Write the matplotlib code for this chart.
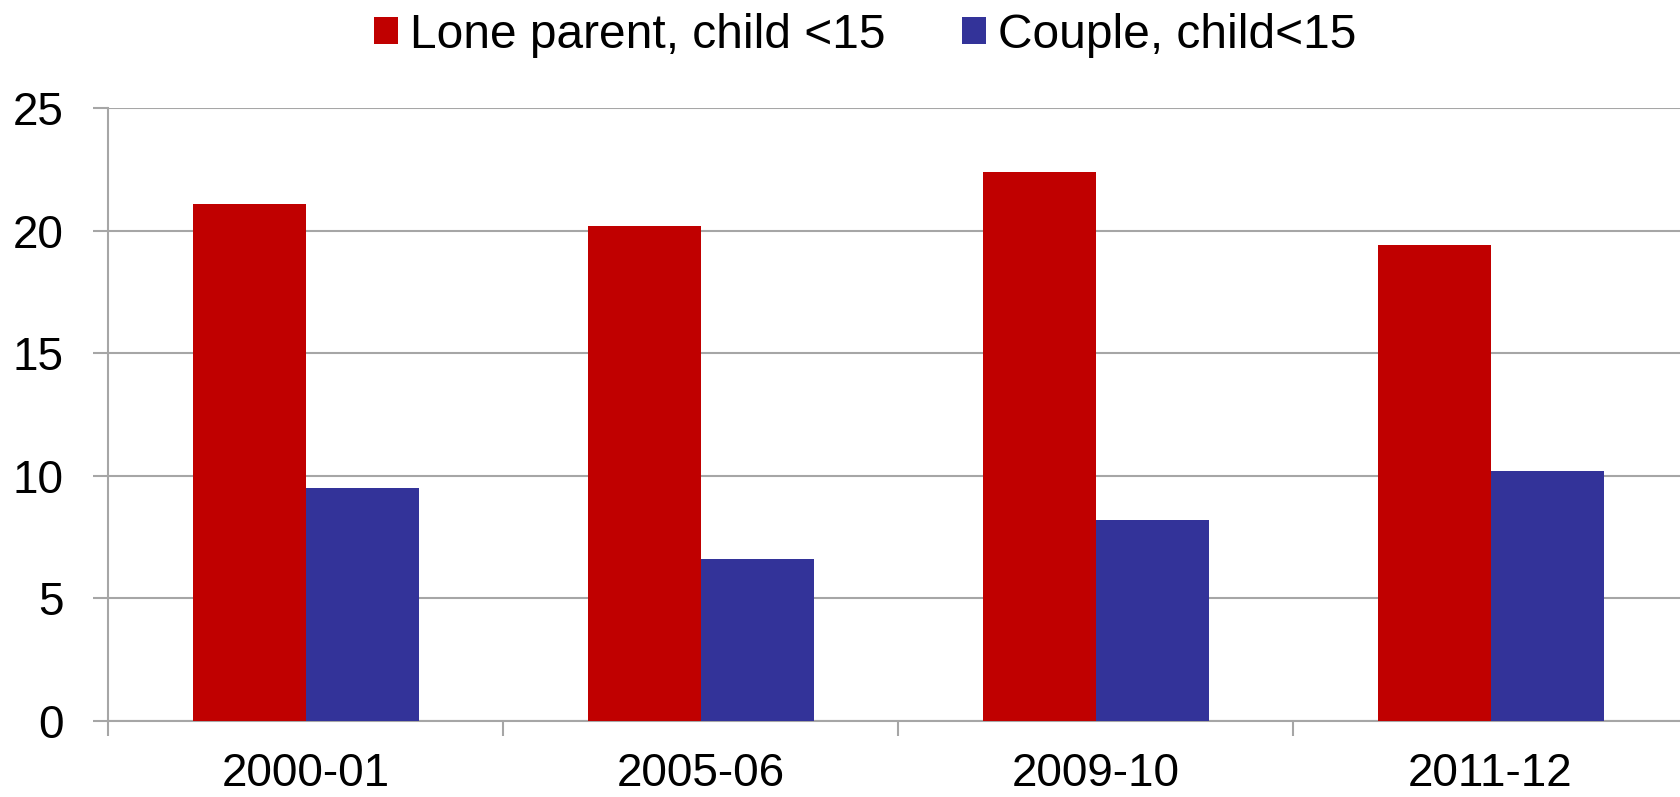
import numpy as np
import matplotlib.pyplot as plt

plt.rcParams['font.family'] = ['Liberation Sans', 'DejaVu Sans']

# data
years = ["2000-01", "2005-06", "2009-10", "2011-12"]
lone_parent = [21.1, 20.2, 22.4, 19.4]
couple = [9.5, 6.6, 8.2, 10.2]

red = "#C00000"
blue = "#333399"
grid_col = "#A6A6A6"

fig = plt.figure(figsize=(16.8, 7.97), dpi=100)
ax = fig.add_axes([0.0643, 0.0954, 0.9405, 0.769])

x = np.arange(len(years))
w = 0.286
ax.bar(x - w / 2, lone_parent, w, color=red, label="Lone parent, child <15", zorder=3)
ax.bar(x + w / 2, couple, w, color=blue, label="Couple, child<15", zorder=3)

ax.set_xlim(-0.5, len(years) - 0.5)
ax.set_ylim(0, 25)
ax.set_yticks(np.arange(0, 26, 5))
ax.yaxis.grid(True, color=grid_col, linewidth=1.5, zorder=0)
ax.set_axisbelow(True)

ax.set_xticks(x)
ax.set_xticklabels(years)
ax.set_xticks(np.arange(-0.5, len(years), 1), minor=True)
ax.tick_params(axis='x', which='major', length=0, pad=22, labelsize=33)
ax.tick_params(axis='x', which='minor', length=11, width=1.5, color=grid_col)
ax.tick_params(axis='y', length=11, width=1.5, color=grid_col, pad=21, labelsize=33)

for s in ["top", "right"]:
    ax.spines[s].set_visible(False)
for s in ["left", "bottom"]:
    ax.spines[s].set_color(grid_col)
    ax.spines[s].set_linewidth(1.5)

fig.legend(loc="center", bbox_to_anchor=(0.515, 0.956), ncol=2, frameon=False,
           fontsize=34.5, handlelength=0.5, handleheight=0.5, handletextpad=0.25,
           columnspacing=1.6)

fig.savefig("out.png", dpi=100)
